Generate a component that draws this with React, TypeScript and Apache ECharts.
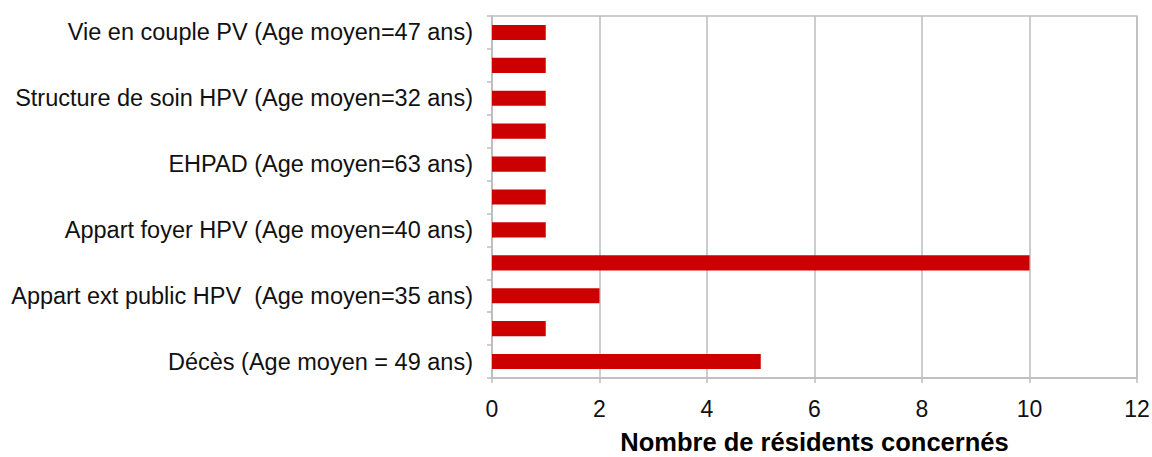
import React, { useEffect, useRef } from "react";
import * as echarts from "echarts";

// Categories from bottom to top (every other label is hidden by the axis, as in the original)
const categories = [
  "Décès (Age moyen = 49 ans)",
  "Catégorie 2",
  "Appart ext public HPV  (Age moyen=35 ans)",
  "Catégorie 4",
  "Appart foyer HPV (Age moyen=40 ans)",
  "Catégorie 6",
  "EHPAD (Age moyen=63 ans)",
  "Catégorie 8",
  "Structure de soin HPV (Age moyen=32 ans)",
  "Catégorie 10",
  "Vie en couple PV (Age moyen=47 ans)",
];
const values = [5, 1, 2, 10, 1, 1, 1, 1, 1, 1, 1];
const xTicks = { min: 0, max: 12, interval: 2 };
const axisTitle = "Nombre de résidents concernés";

const GRAY = "#bdbdbd";
const FONT = "'Liberation Sans', Arial, sans-serif";

export default function App() {
  const ref = useRef<HTMLDivElement>(null);
  useEffect(() => {
    if (!ref.current) return;
    const chart = echarts.init(ref.current, undefined, { renderer: "svg" });
    chart.setOption({
      animation: false,
      backgroundColor: "#ffffff",
      grid: {
        left: 492,
        right: 15,
        top: 16,
        bottom: 79,
        containLabel: false,
        outerBoundsMode: "none",
        show: true,
        borderColor: GRAY,
        borderWidth: 1.5,
      },
      xAxis: {
        type: "value",
        min: xTicks.min,
        max: xTicks.max,
        interval: xTicks.interval,
        name: axisTitle,
        nameLocation: "middle",
        nameGap: 51,
        nameTextStyle: {
          fontFamily: FONT,
          fontSize: 25.5,
          lineHeight: 26,
          fontWeight: "bold",
          color: "#000000",
        },
        axisLine: { show: true, lineStyle: { color: GRAY, width: 1.5 } },
        axisTick: { show: true, length: 5, lineStyle: { color: GRAY, width: 1.5 } },
        axisLabel: {
          margin: 19,
          fontFamily: FONT,
          fontSize: 23,
          color: "#111111",
        },
        splitLine: { show: true, lineStyle: { color: GRAY, width: 1.5 } },
      },
      yAxis: {
        type: "category",
        data: categories,
        axisLine: { show: true, lineStyle: { color: GRAY, width: 1.5 } },
        axisTick: {
          show: true,
          length: 5,
          interval: 0,
          lineStyle: { color: GRAY, width: 1.5 },
        },
        axisLabel: {
          interval: 1,
          margin: 19,
          fontFamily: FONT,
          fontSize: 23.5,
          color: "#111111",
        },
        splitLine: { show: false },
      },
      series: [
        {
          type: "bar",
          data: values,
          barWidth: "46%",
          itemStyle: { color: "#cc0000" },
        },
      ],
    });
    return () => chart.dispose();
  }, []);
  return (
    <div
      ref={ref}
      style={{ position: "absolute", left: 0, top: 0, width: 1152, height: 457 }}
    />
  );
}
